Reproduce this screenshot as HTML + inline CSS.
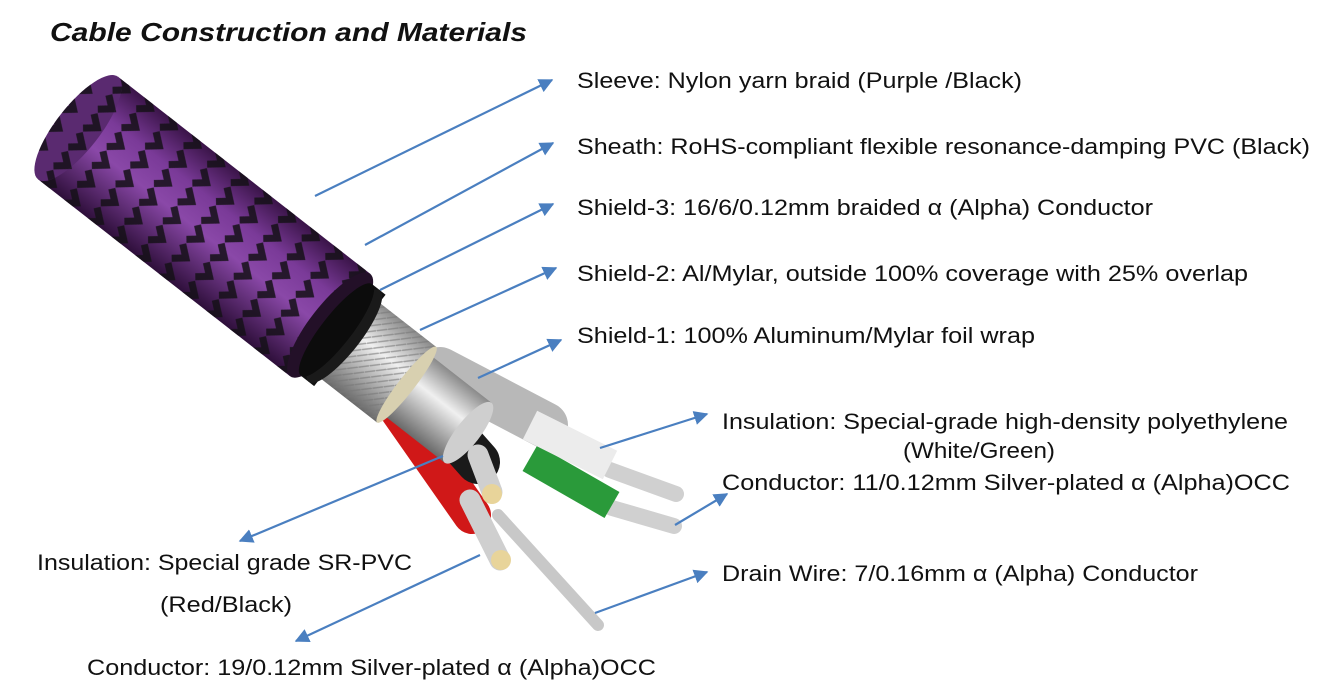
<!DOCTYPE html>
<html><head><meta charset="utf-8"><style>
html,body{margin:0;padding:0;background:#fff;}
svg{display:block;}
text{font-family:"Liberation Sans",Arial,sans-serif;font-size:22.5px;fill:#111;}
</style></head><body>
<svg width="1330" height="700" viewBox="0 0 1330 700" xmlns="http://www.w3.org/2000/svg">
<defs>
<linearGradient id="pur" x1="0" y1="0" x2="0" y2="1">
<stop offset="0" stop-color="#3a1448"/><stop offset="0.3" stop-color="#7a3a98"/><stop offset="0.55" stop-color="#8a48a8"/><stop offset="1" stop-color="#2e0f3a"/>
</linearGradient>
<pattern id="braid" width="30" height="24" patternUnits="userSpaceOnUse">
<path d="M4 3 L15 12 L4 21" stroke="#151018" stroke-width="7" fill="none" opacity="0.85"/>
</pattern>
<linearGradient id="sil" x1="0" y1="0" x2="0" y2="1">
<stop offset="0" stop-color="#8a8a8a"/><stop offset="0.4" stop-color="#f0f0f0"/><stop offset="1" stop-color="#6a6a6a"/>
</linearGradient>
<pattern id="hatch" width="8" height="8" patternUnits="userSpaceOnUse">
<path d="M0 8 L8 0" stroke="#777" stroke-width="1.5"/>
</pattern>
<marker id="ah" viewBox="0 0 10 10" refX="9" refY="5" markerWidth="6.5" markerHeight="6.5" orient="auto">
<path d="M0 0 L10 5 L0 10 z" fill="#4a7fc0"/>
</marker>
</defs>

<text x="50" y="41" style="font-size:26px;font-weight:bold;font-style:italic" textLength="477" lengthAdjust="spacingAndGlyphs">Cable Construction and Materials</text>

<!-- inner wires (behind) -->
<g stroke-linecap="round">
<line x1="440" y1="370" x2="545" y2="425" stroke="#b8b8b8" stroke-width="46"/>
<line x1="498" y1="515" x2="598" y2="625" stroke="#c8c8c8" stroke-width="12"/>
<line x1="610" y1="470" x2="676" y2="494" stroke="#d0d0d0" stroke-width="16"/>
<line x1="612" y1="508" x2="674" y2="526" stroke="#d0d0d0" stroke-width="16"/>
<line x1="530" y1="458" x2="612" y2="505" stroke="#2a9a3a" stroke-width="30" stroke-linecap="butt"/>
<line x1="530" y1="425" x2="610" y2="465" stroke="#ececec" stroke-width="32" stroke-linecap="butt"/>
<line x1="395" y1="405" x2="472" y2="515" stroke="#d01818" stroke-width="38"/>
<line x1="470" y1="500" x2="500" y2="560" stroke="#cfcfcf" stroke-width="21"/>
<circle cx="501" cy="560" r="10" fill="#e8d49a"/>
<line x1="410" y1="385" x2="478" y2="462" stroke="#1a1a1a" stroke-width="44"/>
<line x1="478" y1="455" x2="492" y2="492" stroke="#cfcfcf" stroke-width="21"/>
<circle cx="492" cy="494" r="10" fill="#e8d49a"/>
</g>

<!-- cable body -->
<g transform="translate(78,128) rotate(38)">
<rect x="415" y="-38" width="80" height="76" fill="url(#sil)"/>
<ellipse cx="495" cy="0" rx="12" ry="38" fill="#cfcfcf"/>
<rect x="340" y="-48" width="77" height="96" fill="url(#sil)"/>
<rect x="340" y="-48" width="77" height="96" fill="url(#hatch)" opacity="0.6"/>
<ellipse cx="417" cy="0" rx="8" ry="48" fill="#d8d0b0"/>
<rect x="315" y="-58" width="30" height="116" fill="#111"/>
<ellipse cx="338" cy="0" rx="16" ry="58" fill="#1a1a1a"/>
<rect x="0" y="-65" width="320" height="130" fill="url(#pur)"/>
<rect x="0" y="-65" width="320" height="130" fill="url(#braid)"/>
<ellipse cx="0" cy="0" rx="22" ry="65" fill="#5a2a70"/>
<ellipse cx="0" cy="0" rx="22" ry="65" fill="url(#braid)"/>
<ellipse cx="320" cy="0" rx="20" ry="65" fill="#231028"/>
<ellipse cx="328" cy="0" rx="15" ry="58" fill="#0c0c0c"/>
</g>

<!-- arrows -->
<g stroke="#4a7fc0" stroke-width="2.2" marker-end="url(#ah)">
<line x1="315" y1="196" x2="552" y2="80"/>
<line x1="365" y1="245" x2="553" y2="143"/>
<line x1="380" y1="290" x2="553" y2="204"/>
<line x1="420" y1="330" x2="556" y2="268"/>
<line x1="478" y1="378" x2="561" y2="340"/>
<line x1="600" y1="448" x2="707" y2="414"/>
<line x1="675" y1="525" x2="727" y2="494"/>
<line x1="595" y1="613" x2="707" y2="572"/>
<line x1="443" y1="456" x2="240" y2="541"/>
<line x1="480" y1="555" x2="296" y2="641"/>
</g>

<g>
<text x="577" y="88" textLength="445" lengthAdjust="spacingAndGlyphs">Sleeve: Nylon yarn braid (Purple /Black)</text>
<text x="577" y="154" textLength="733" lengthAdjust="spacingAndGlyphs">Sheath: RoHS-compliant flexible resonance-damping PVC (Black)</text>
<text x="577" y="215" textLength="576" lengthAdjust="spacingAndGlyphs">Shield-3: 16/6/0.12mm braided α (Alpha) Conductor</text>
<text x="577" y="281" textLength="671" lengthAdjust="spacingAndGlyphs">Shield-2: Al/Mylar, outside 100% coverage with 25% overlap</text>
<text x="577" y="343" textLength="458" lengthAdjust="spacingAndGlyphs">Shield-1: 100% Aluminum/Mylar foil wrap</text>
<text x="722" y="429" textLength="566" lengthAdjust="spacingAndGlyphs">Insulation: Special-grade high-density polyethylene</text>
<text x="903" y="458" textLength="152" lengthAdjust="spacingAndGlyphs">(White/Green)</text>
<text x="722" y="490" textLength="568" lengthAdjust="spacingAndGlyphs">Conductor: 11/0.12mm Silver-plated α (Alpha)OCC</text>
<text x="722" y="581" textLength="476" lengthAdjust="spacingAndGlyphs">Drain Wire: 7/0.16mm α (Alpha) Conductor</text>
<text x="37" y="570" textLength="375" lengthAdjust="spacingAndGlyphs">Insulation: Special grade SR-PVC</text>
<text x="160" y="612" textLength="132" lengthAdjust="spacingAndGlyphs">(Red/Black)</text>
<text x="87" y="675" textLength="569" lengthAdjust="spacingAndGlyphs">Conductor: 19/0.12mm Silver-plated α (Alpha)OCC</text>
</g>
</svg>
</body></html>
